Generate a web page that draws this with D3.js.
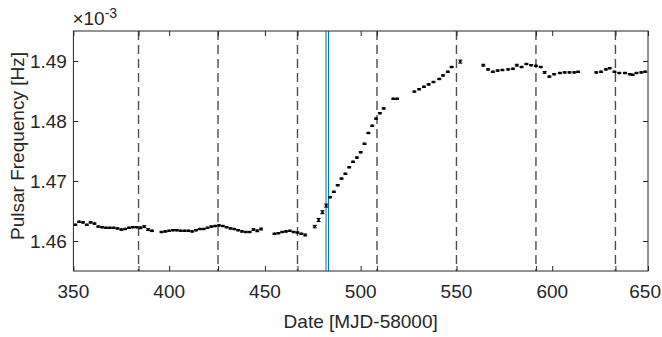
<!DOCTYPE html>
<html><head><meta charset="utf-8">
<script src="https://cdn.jsdelivr.net/npm/d3@7"></script>
<style>body{margin:0;background:#fff;}svg{display:block;font-family:"Liberation Sans",Arial,Helvetica,sans-serif;}</style>
</head><body>
<svg id="c" width="662" height="337"></svg>
<script>
// Data (frequency in units of 1e-3 Hz)
const dates = [351,353,355,357,359,361,363,365,367,369,371,373,375,377,379,381,383,385,387,389,391,
 396,398,400,402,404,406,408,410,412,414,416,418,420,422,424,426,428,430,432,434,436,438,440,442,444,446,448,
 455,457,459,461,463,465,467,469,471,
 476,478,480,482,484,486,488,490,492,494,496,498,500,502,504,506,508,510,512,517,519,
 528,530.5,533,535.5,538,541,543,545.5,547.5,552,
 564,566.5,569,571.5,574,577,579.5,581.5,584,586.5,589,591.5,594,596,598.5,601,604,606.5,609,611.5,613.5,
 623,625.5,628,630,632.5,635,638,640.5,642,644,646.5,648.5];
const freq = [1.4627,1.4632,1.4631,1.4627,1.4631,1.4629,1.4624,1.4623,1.4622,1.4622,1.4622,1.4621,1.4619,1.4620,1.4622,1.4623,1.4623,1.4622,1.4624,1.4619,1.4617,
 1.4615,1.4616,1.4617,1.4618,1.4618,1.4617,1.4617,1.4617,1.4616,1.4618,1.4620,1.4620,1.4622,1.4624,1.4625,1.4626,1.4625,1.4623,1.4621,1.4620,1.4618,1.4616,1.4615,1.4615,1.4619,1.4617,1.4620,
 1.4612,1.4613,1.4615,1.4616,1.4617,1.4615,1.4614,1.4612,1.4610,
 1.4624,1.4635,1.4648,1.4659,1.4673,1.4682,1.4693,1.4704,1.4712,1.4723,1.4732,1.4739,1.4748,1.4762,1.4780,1.4792,1.4804,1.4813,1.4821,1.4837,1.4837,
 1.4849,1.4853,1.4857,1.4861,1.4865,1.4870,1.4876,1.4882,1.4890,1.4899,
 1.4893,1.4886,1.4882,1.4884,1.4885,1.4886,1.4887,1.4893,1.4890,1.4895,1.4893,1.4892,1.4890,1.4881,1.4874,1.4878,1.4880,1.4881,1.4881,1.4881,1.4882,
 1.4881,1.4882,1.4886,1.4888,1.4882,1.4880,1.4880,1.4878,1.4877,1.4880,1.4881,1.4882];
const err = [0.0001,0.0001,0.0001,0.0001,0.0001,0.0001,0.0001,0.0001,0.0001,0.0001,0.0001,0.0001,0.0001,0.0001,0.0001,0.0001,0.0001,0.00015,0.00015,0.00015,0.00012,
 0.0001,0.0001,0.0001,0.0001,0.0001,0.0001,0.0001,0.0001,0.0001,0.0001,0.0001,0.0001,0.0001,0.0001,0.0001,0.0001,0.0001,0.0001,0.0001,0.0001,0.0001,0.0001,0.0001,0.0001,0.00015,0.00015,0.00015,
 0.0001,0.0001,0.0001,0.0001,0.0001,0.0001,0.0001,0.0001,0.00015,
 0.0002,0.00025,0.00025,0.00025,0.0001,0.0001,0.0001,0.0001,0.0001,0.0001,0.0001,0.0001,0.0001,0.0001,0.0001,0.0001,0.0001,0.0001,0.0001,0.0001,0.0001,
 0.0001,0.0001,0.0001,0.0001,0.0001,0.0001,0.0001,0.0001,0.0001,0.00025,
 0.00015,0.0001,0.0001,0.0001,0.0001,0.0001,0.0001,0.00015,0.0001,0.0001,0.0001,0.0001,0.0001,0.00015,0.0001,0.0001,0.0001,0.0001,0.0001,0.0001,0.0001,
 0.0001,0.0001,0.0001,0.0001,0.0001,0.0001,0.0001,0.0001,0.0001,0.0001,0.0001,0.0001];
const xTicks = [350,384,400,425.5,450,467,500,508.5,550,591.5,600,633,650];
const xTickLabels = [350,400,450,500,550,600,650];
const yTicks = [1.46,1.47,1.48,1.49];
const dashedLines = [384,425.5,467,508.5,550,591.5,633];
const blueLines = [481.9,483.2];
const xDomain = [350,650];
const yDomain = [1.455,1.495];

const W = 662;
const svg = d3.select("#c");
const L=73.4, R=648, T=31, B=271;
const x = d3.scaleLinear().domain(xDomain).range([L,R]);
const y = d3.scaleLinear().domain(yDomain).range([B,T]);
const axisCol = "#262626";
const FS = 19;

// dashed lines
svg.append("g").selectAll("line").data(dashedLines).join("line")
  .attr("x1",d=>x(d)).attr("x2",d=>x(d)).attr("y1",T).attr("y2",B)
  .attr("stroke","#4d4d4d").attr("stroke-width",1.4).attr("stroke-dasharray","9,5");

// blue lines
svg.append("g").selectAll("line").data(blueLines).join("line")
  .attr("x1",d=>x(d)).attr("x2",d=>x(d)).attr("y1",T).attr("y2",B)
  .attr("stroke","#0072BD").attr("stroke-width",1);

// error bars
const pts = dates.map((d,i)=>({d, f:freq[i], e:err[i]}));
const g = svg.append("g").attr("stroke","#000").attr("stroke-width",1.1);
const cap = 2;
pts.forEach(p=>{
  const cx = x(p.d), y1 = y(p.f - p.e), y2 = y(p.f + p.e);
  g.append("line").attr("x1",cx).attr("x2",cx).attr("y1",y1).attr("y2",y2);
  g.append("line").attr("x1",cx-cap).attr("x2",cx+cap).attr("y1",y1).attr("y2",y1);
  g.append("line").attr("x1",cx-cap).attr("x2",cx+cap).attr("y1",y2).attr("y2",y2);
});
svg.append("g").selectAll("circle").data(pts).join("circle")
  .attr("cx",p=>x(p.d)).attr("cy",p=>y(p.f)).attr("r",1.3).attr("fill","#000");

// axes
const tickLen = 5;
svg.append("g").attr("transform",`translate(0,${B})`)
  .call(d3.axisTop(x).tickValues(xTicks).tickSize(tickLen).tickFormat(""))
  .call(a=>{a.select(".domain").remove(); a.selectAll("line").attr("stroke",axisCol);});
svg.append("g").attr("transform",`translate(0,${T})`)
  .call(d3.axisBottom(x).tickValues(xTicks).tickSize(tickLen).tickFormat(""))
  .call(a=>{a.select(".domain").remove(); a.selectAll("line").attr("stroke",axisCol);});
svg.append("g").attr("transform",`translate(${L},0)`)
  .call(d3.axisRight(y).tickValues(yTicks).tickSize(tickLen).tickFormat(""))
  .call(a=>{a.select(".domain").remove(); a.selectAll("line").attr("stroke",axisCol);});
svg.append("g").attr("transform",`translate(${R},0)`)
  .call(d3.axisLeft(y).tickValues(yTicks).tickSize(tickLen).tickFormat(""))
  .call(a=>{a.select(".domain").remove(); a.selectAll("line").attr("stroke",axisCol);});

// tick labels (keep the last one inside the window)
svg.append("g").selectAll("text").data(xTickLabels).join("text")
  .attr("y",B+27).attr("font-size",FS).attr("fill",axisCol).text(d=>d)
  .each(function(d){
    const t = d3.select(this);
    const w = this.getComputedTextLength();
    const cx = Math.min(x(d), W - 1 - w/2);
    t.attr("x",cx).attr("text-anchor","middle");
  });
svg.append("g").selectAll("text").data(yTicks).join("text")
  .attr("x",L-6.5).attr("y",d=>y(d)+6.8).attr("text-anchor","end")
  .attr("font-size",FS).attr("fill",axisCol).text(d=>d3.format(".2f")(d));

// box
svg.append("rect").attr("x",L).attr("y",T).attr("width",R-L).attr("height",B-T)
  .attr("fill","none").attr("stroke",axisCol).attr("stroke-width",1);

// exponent
const ex = svg.append("text").attr("x",L-1).attr("y",T-6).attr("font-size",FS).attr("fill",axisCol);
ex.append("tspan").text("\u00d710");
ex.append("tspan").attr("dy",-7).attr("font-size",14).text("-3");

// axis labels
svg.append("text").attr("x",(L+R)/2).attr("y",B+57).attr("text-anchor","middle")
  .attr("font-size",FS).attr("fill",axisCol).text("Date [MJD-58000]");
svg.append("text").attr("transform",`translate(23.5,146) rotate(-90)`).attr("text-anchor","middle")
  .attr("font-size",FS).attr("fill",axisCol).text("Pulsar Frequency [Hz]");
</script>
</body></html>
